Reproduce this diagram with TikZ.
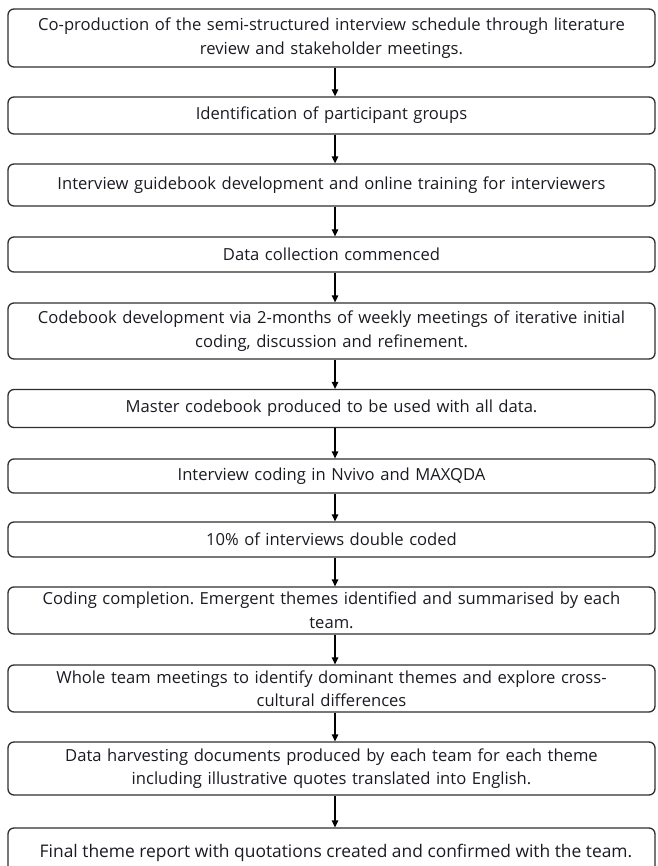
\documentclass[tikz,border=0pt]{standalone}
\usepackage{fontspec}
\setmainfont{Open Sans}
\usetikzlibrary{arrows.meta}
\definecolor{txt}{HTML}{1A1A22}
\definecolor{edge}{HTML}{2E2E2E}
\tikzset{
  stepbox/.style={draw=edge, line width=1.3pt, rounded corners=6pt, minimum width=647pt,
    align=center, text width=645pt, inner sep=0pt, text=txt, font=\fontsize{16.6}{23.5}\selectfont},
  arr/.style={draw=black, line width=1.3pt, -{Triangle[length=7pt,width=6.5pt]}}
}
\frenchspacing
\begin{document}
\begin{tikzpicture}[x=1pt,y=-1pt]
\useasboundingbox (0,0) rectangle (657,866);
\node[stepbox, minimum height=58pt] (b1) at (331.5,38) {Co-production of the semi-structured interview schedule through literature\\review and stakeholder meetings.};
\node[stepbox, minimum height=37pt] (b2) at (331.5,115.5) {Identification of participant groups};
\node[stepbox, minimum height=42pt] (b3) at (331.5,185) {Interview guidebook development and online training for interviewers};
\node[stepbox, minimum height=35pt] (b4) at (331.5,254.5) {Data collection commenced};
\node[stepbox, minimum height=56pt] (b5) at (331.5,331) {Codebook development via 2-months of weekly meetings of iterative initial\\coding, discussion and refinement.};
\node[stepbox, minimum height=38pt] (b6) at (331.5,408.5) {Master codebook produced to be used with all data.};
\node[stepbox, minimum height=34pt] (b7) at (331.5,476) {Interview coding in Nvivo and MAXQDA};
\node[stepbox, minimum height=35pt] (b8) at (331.5,539.5) {10\% of interviews double coded};
\node[stepbox, minimum height=47pt] (b9) at (331.5,610.5) {Coding completion. Emergent themes identified and summarised by each\\team.};
\node[stepbox, minimum height=47pt] (b10) at (331.5,688.5) {Whole team meetings to identify dominant themes and explore cross-\\cultural differences};
\node[stepbox, minimum height=53pt] (b11) at (331.5,768.5) {Data harvesting documents produced by each team for each theme\\including illustrative quotes translated into English.};
\node[stepbox, minimum height=48pt] (b12) at (331.5,852) {};
\node[text=txt, font=\fontsize{17.4}{23.5}\selectfont, anchor=base] (t12) at (336,857.5) {Final theme report with quotations created and confirmed with the team.};
\foreach \a/\b in {b1/b2,b2/b3,b3/b4,b4/b5,b5/b6,b6/b7,b7/b8,b8/b9,b9/b10,b10/b11,b11/b12}{
  \draw[arr] ([xshift=3.5pt]\a.south) -- ([xshift=3.5pt]\b.north);
}
\end{tikzpicture}
\end{document}
